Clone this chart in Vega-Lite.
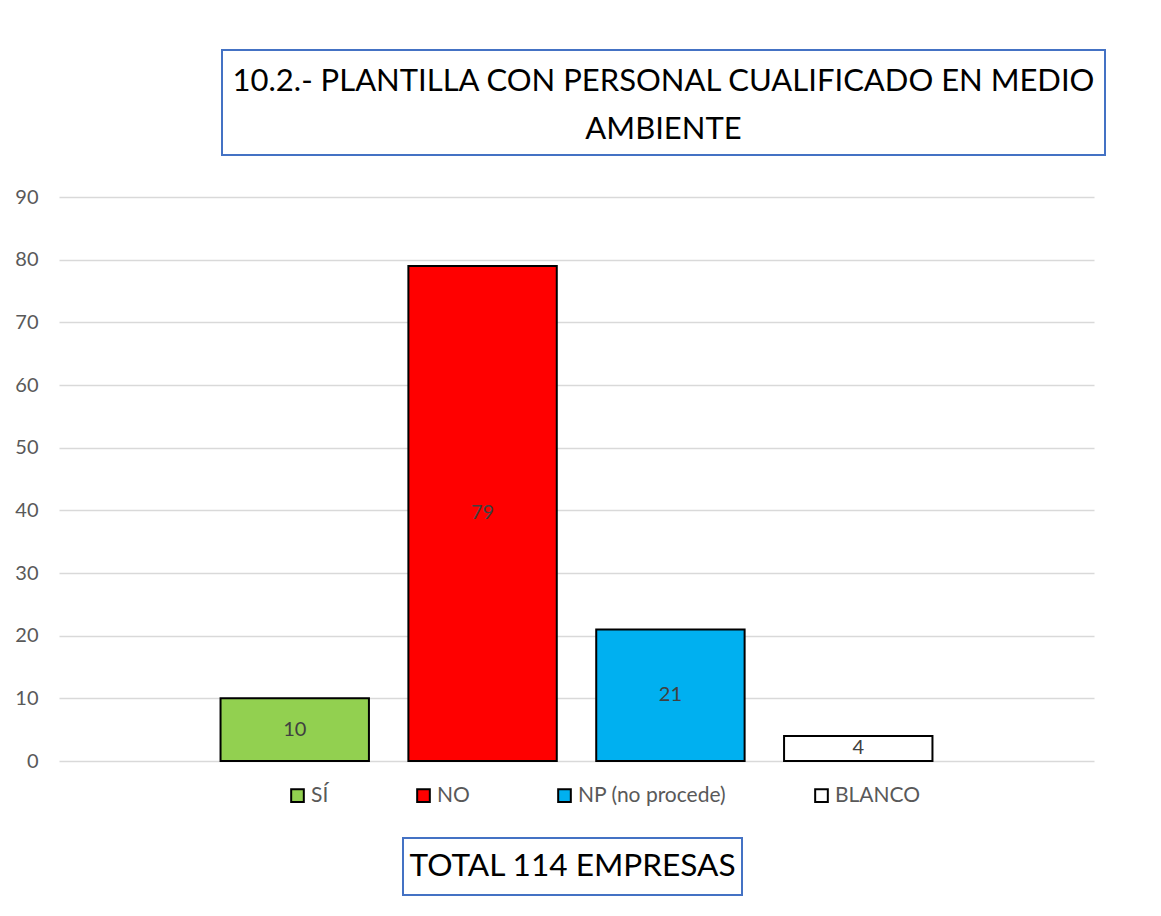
{
  "$schema": "https://vega.github.io/schema/vega-lite/v6.json",
  "padding": {"left": 14, "top": 49, "right": 0, "bottom": 0},
  "background": "white",
  "config": {
    "view": {"stroke": null},
    "font": "Lato",
    "text": {"font": "Lato"}
  },
  "spacing": 31,
  "resolve": {"scale": {"color": "independent"}, "legend": {"color": "independent"}},
  "vconcat": [
    {
      "spacing": 0,
      "hconcat": [
        {
          "width": 162,
          "height": 105,
          "data": {"values": [{"t": ""}]},
          "mark": {"type": "text"},
          "encoding": {"text": {"field": "t"}},
          "view": {"stroke": null}
        },
        {
          "width": 883,
          "height": 105,
          "data": {"values": [{"t": "10.2.- PLANTILLA CON PERSONAL CUALIFICADO EN MEDIO\nAMBIENTE"}]},
          "mark": {"type": "text", "lineBreak": "\n", "fontSize": 31, "lineHeight": 48, "dy": -21, "color": "#000000", "align": "center", "baseline": "middle"},
          "encoding": {"text": {"field": "t"}},
          "view": {"stroke": "#4472C4", "strokeWidth": 2}
        }
      ]
    },
    {
      "width": 1035,
      "height": 564,
      "data": {
        "values": [
          {"categoria": "SÍ", "empresas": 10},
          {"categoria": "NO", "empresas": 79},
          {"categoria": "NP (no procede)", "empresas": 21},
          {"categoria": "BLANCO", "empresas": 4}
        ]
      },
      "encoding": {
        "x": {
          "field": "categoria",
          "type": "nominal",
          "sort": ["SÍ", "NO", "NP (no procede)", "BLANCO"],
          "scale": {"paddingInner": 0.21, "paddingOuter": 0.86},
          "axis": null
        }
      },
      "layer": [
        {
          "mark": {"type": "bar", "stroke": "#000000", "strokeWidth": 2},
          "encoding": {
            "y": {
              "field": "empresas",
              "type": "quantitative",
              "scale": {"domain": [0, 90], "nice": false},
              "axis": {
                "title": null,
                "values": [0, 10, 20, 30, 40, 50, 60, 70, 80, 90],
                "domain": false,
                "ticks": false,
                "labelPadding": 21,
                "labelFontSize": 20,
                "labelColor": "#595959",
                "labelFont": "Lato",
                "gridColor": "#d9d9d9",
                "gridWidth": 1.5
              }
            },
            "color": {
              "field": "categoria",
              "type": "nominal",
              "sort": ["SÍ", "NO", "NP (no procede)", "BLANCO"],
              "scale": {
                "domain": ["SÍ", "NO", "NP (no procede)", "BLANCO"],
                "range": ["#92D050", "#FF0000", "#00B0F0", "#FFFFFF"]
              },
              "legend": {
                "title": null,
                "orient": "none",
                "direction": "horizontal",
                "legendX": 228,
                "legendY": 588,
                "padding": 0,
                "symbolType": "square",
                "symbolSize": 160,
                "symbolStrokeColor": "#000000",
                "symbolStrokeWidth": 2,
                "symbolOpacity": 1,
                "labelFontSize": 21,
                "labelColor": "#595959",
                "labelFont": "Lato",
                "labelOffset": 3,
                "columnPadding": 84
              }
            }
          }
        },
        {
          "mark": {"type": "text", "fontSize": 20, "color": "#404040", "baseline": "middle", "align": "center"},
          "encoding": {
            "y": {
              "field": "empresas",
              "type": "quantitative",
              "scale": {"domain": [0, 180], "nice": false},
              "axis": null
            },
            "text": {"field": "empresas", "type": "quantitative"}
          }
        }
      ],
      "resolve": {"scale": {"y": "independent"}}
    },
    {
      "spacing": 0,
      "hconcat": [
        {
          "width": 343,
          "height": 57,
          "data": {"values": [{"t": ""}]},
          "mark": {"type": "text"},
          "encoding": {"text": {"field": "t"}},
          "view": {"stroke": null}
        },
        {
          "width": 339,
          "height": 57,
          "data": {"values": [{"t": "TOTAL 114 EMPRESAS"}]},
          "mark": {"type": "text", "fontSize": 31.6, "color": "#000000", "align": "center", "baseline": "middle"},
          "encoding": {"text": {"field": "t"}},
          "view": {"stroke": "#4472C4", "strokeWidth": 2}
        }
      ]
    }
  ]
}
